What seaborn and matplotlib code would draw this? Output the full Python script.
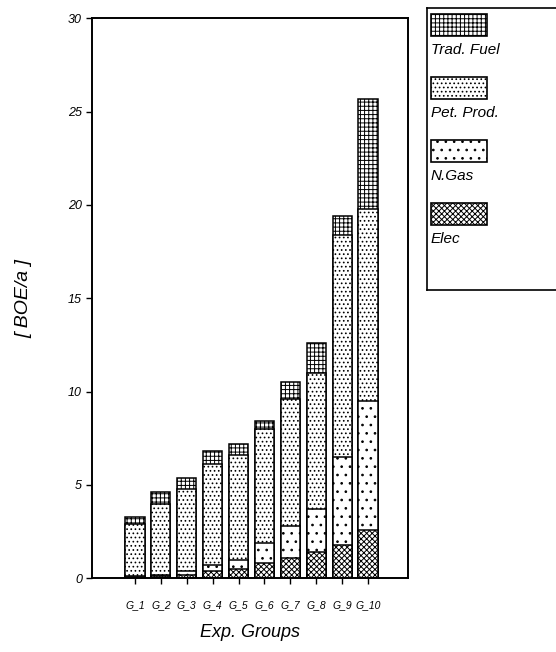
import numpy as np
import pandas as pd
import matplotlib
matplotlib.use("Agg")
import matplotlib.pyplot as plt
from matplotlib.patches import Rectangle
import seaborn as sns

groups = ["G_1", "G_2", "G_3", "G_4", "G_5", "G_6", "G_7", "G_8", "G_9", "G_10"]
elec = [0.05, 0.1, 0.2, 0.4, 0.5, 0.8, 1.1, 1.4, 1.8, 2.6]
n_gas = [0.05, 0.1, 0.2, 0.3, 0.5, 1.1, 1.7, 2.3, 4.7, 6.9]
pet_prod = [2.8, 3.8, 4.4, 5.45, 5.6, 6.1, 6.8, 7.3, 11.9, 10.3]
trad_fuel = [0.4, 0.65, 0.55, 0.65, 0.6, 0.45, 0.9, 1.6, 1.0, 5.9]
series_names = ["Elec", "N.Gas", "Pet. Prod.", "Trad. Fuel"]
y_ticks = [0, 5, 10, 15, 20, 25, 30]

sns.set_style("ticks")
plt.rcParams["font.family"] = ["Liberation Sans", "DejaVu Sans"]
plt.rcParams["hatch.linewidth"] = 0.7
plt.rcParams["text.color"] = "black"
plt.rcParams["axes.labelcolor"] = "black"
plt.rcParams["xtick.color"] = "black"
plt.rcParams["ytick.color"] = "black"

hatches = {"Elec": "xxxxxx", "N.Gas": "..", "Pet. Prod.": "....", "Trad. Fuel": "++++"}

df = pd.DataFrame({"group": groups, "Elec": elec, "N.Gas": n_gas,
                   "Pet. Prod.": pet_prod, "Trad. Fuel": trad_fuel})
cum = df[series_names].cumsum(axis=1)

fig = plt.figure(figsize=(5.56, 6.52), dpi=100)
ax = fig.add_axes([0.165, 0.113, 0.569, 0.859])

for name in reversed(series_names):
    sns.barplot(x=df["group"], y=cum[name], ax=ax, color="white",
                edgecolor="black", linewidth=1.1, width=0.74,
                hatch=hatches[name], errorbar=None, saturation=1)

ax.set_xlim(-1.67, 10.55)
ax.set_ylim(0, 30)
ax.set_yticks(y_ticks)
ax.set_yticklabels([str(v) for v in y_ticks], fontsize=9, style="italic")
ax.set_xticks(range(len(groups)))
ax.set_xticklabels(groups, fontsize=7.5, style="italic")
ax.tick_params(axis="both", length=4, width=1, direction="out", colors="black")
ax.tick_params(axis="x", pad=12)
ax.tick_params(axis="y", pad=3)
for s in ax.spines.values():
    s.set_visible(True)
    s.set_linewidth(1.4)
    s.set_color("black")
ax.set_xlabel("Exp. Groups", fontsize=13, style="italic", labelpad=10, color="black")
ax.set_ylabel("[ BOE/a ]", fontsize=14, style="italic", labelpad=26, color="black")

# legend panel
lax = fig.add_axes([427 / 556, 1 - 290 / 652, 140 / 556, 282 / 652])
lax.set_xlim(0, 140)
lax.set_ylim(282, 0)
lax.set_xticks([])
lax.set_yticks([])
for s in lax.spines.values():
    s.set_linewidth(1.2)
    s.set_color("black")
leg_order = ["Trad. Fuel", "Pet. Prod.", "N.Gas", "Elec"]
for i, name in enumerate(leg_order):
    top = 6 + i * 63
    lax.add_patch(Rectangle((4, top), 56, 22, facecolor="white", edgecolor="black",
                            linewidth=1.2, hatch=hatches[name]))
    lax.text(4, top + 36, name, fontsize=11, style="italic", va="center", ha="left",
             color="black")

fig.savefig("out.png", dpi=100, facecolor="white")
